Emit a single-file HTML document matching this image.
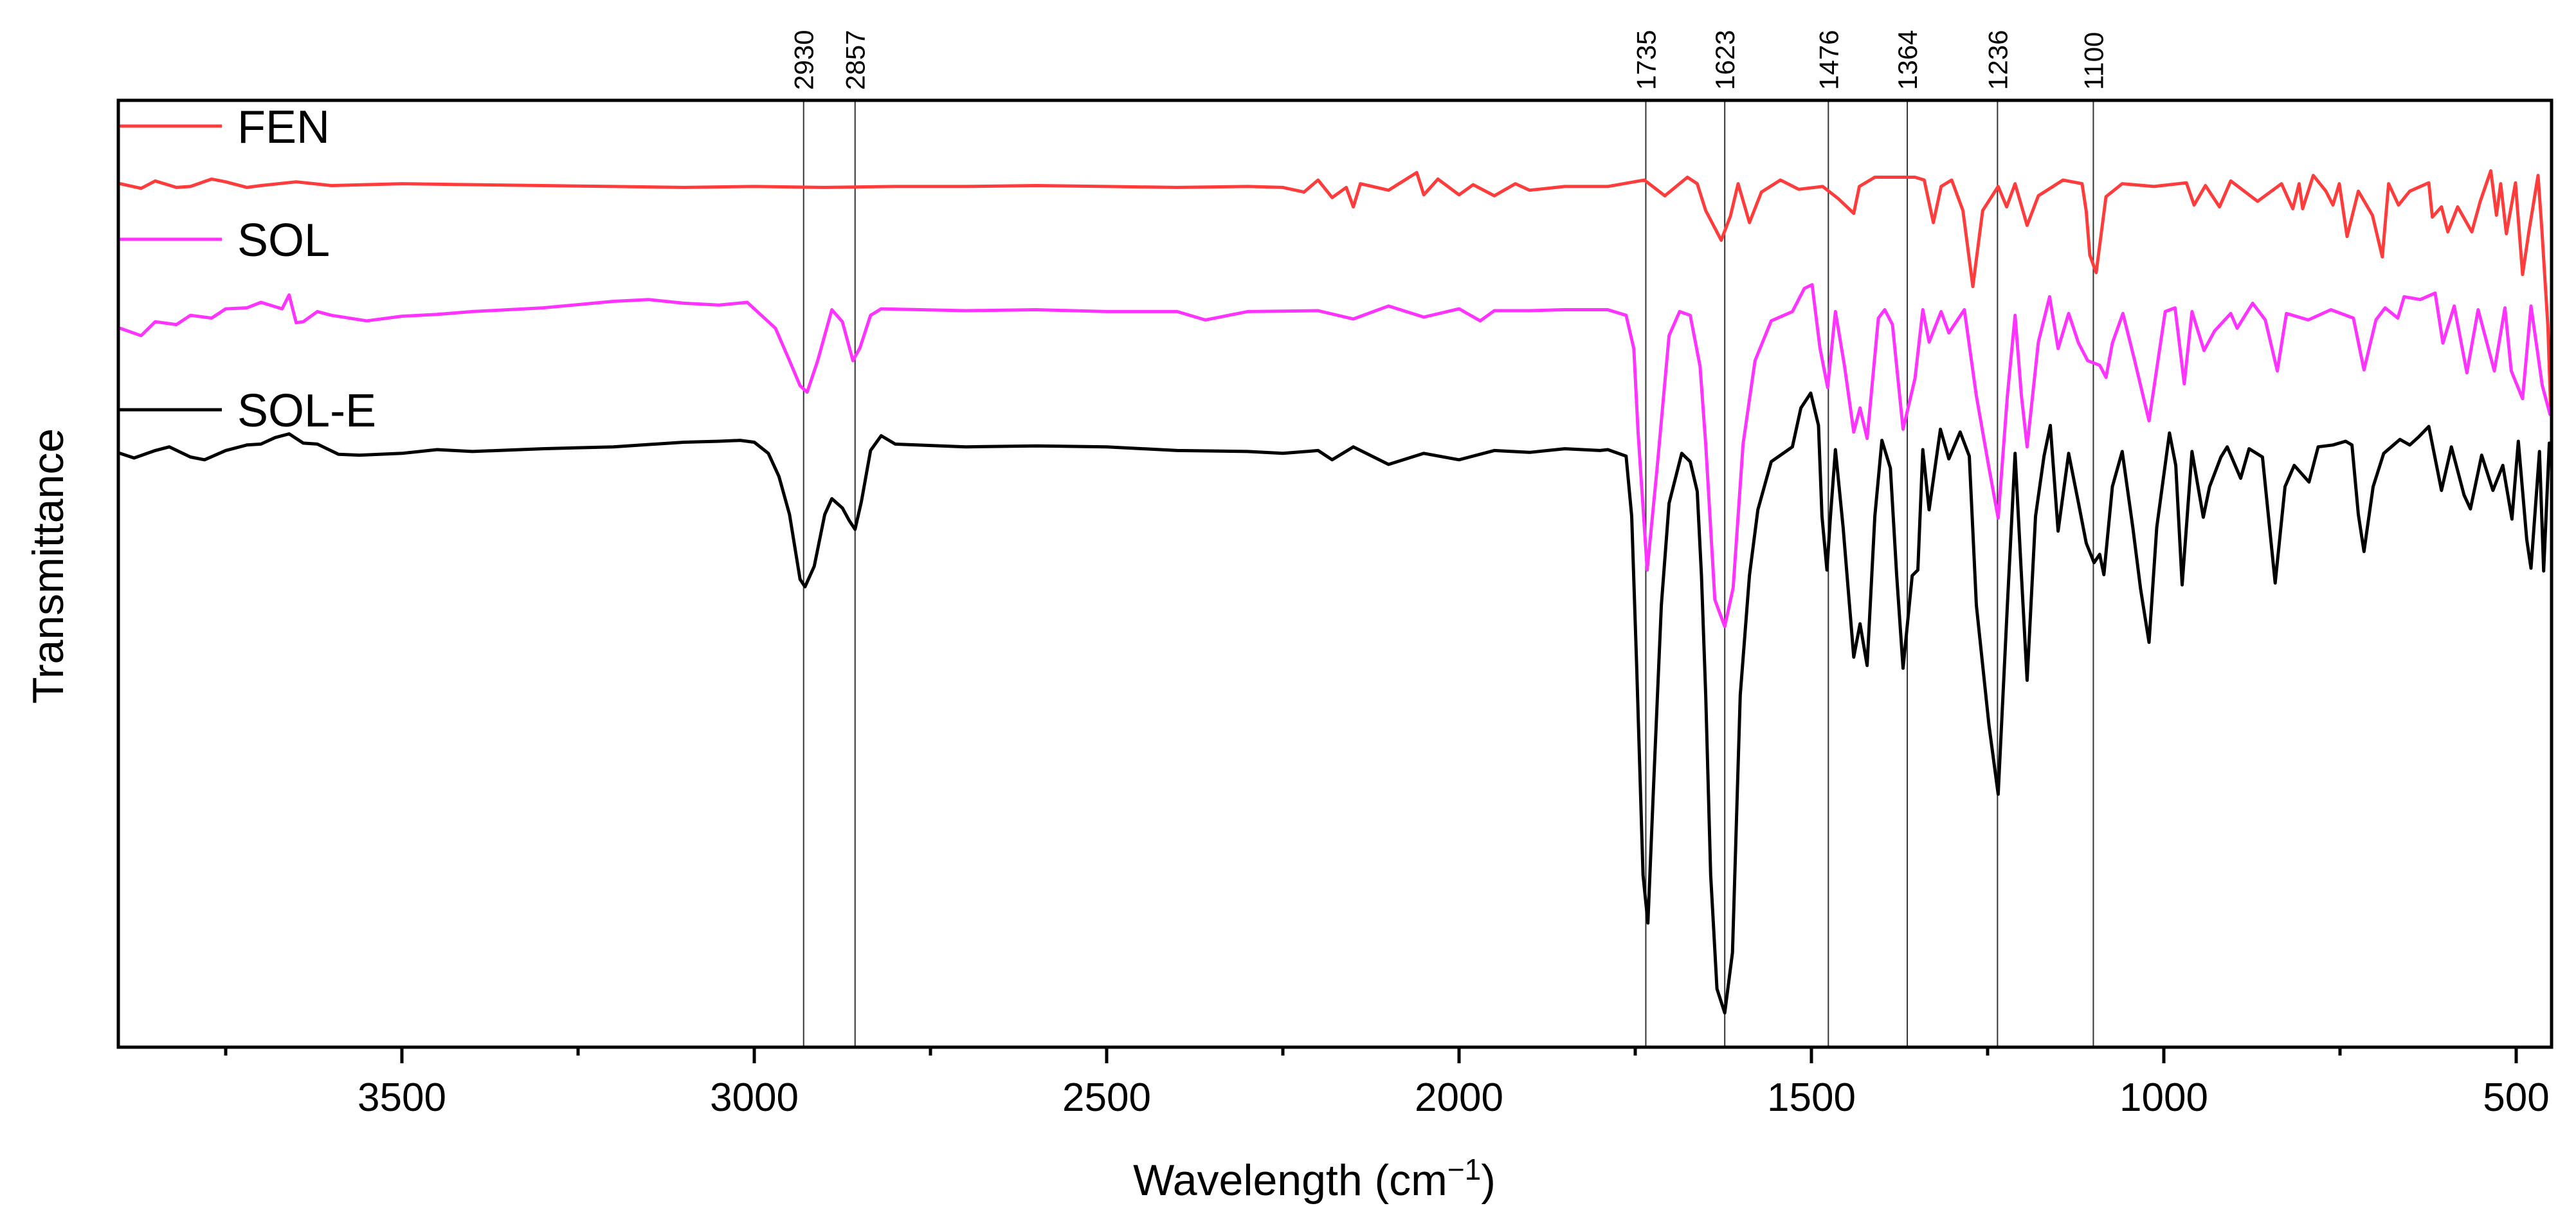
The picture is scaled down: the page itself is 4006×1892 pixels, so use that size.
<!DOCTYPE html>
<html><head><meta charset="utf-8"><title>FTIR spectra</title>
<style>
html,body{margin:0;padding:0;background:#fff;}
svg{display:block;font-family:"Liberation Sans",Arial,sans-serif;}
</style></head>
<body>
<svg id="chart" width="4006" height="1892" viewBox="0 0 4006 1892" xmlns="http://www.w3.org/2000/svg">
<rect x="0" y="0" width="4006" height="1892" fill="#fff"/>
<g id="marks"></g>
<g id="axes"></g>
</svg>
<script>
const seriesNames = ["FEN", "SOL", "SOL-E"];
const seriesColors = ["#ff3c3c", "#ff33ff", "#000000"];
const xTicks = [3500, 3000, 2500, 2000, 1500, 1000, 500];
const xMinorTicks = [3750, 3250, 2750, 2250, 1750, 1250, 750];
const peakLabels = [2930, 2857, 1735, 1623, 1476, 1364, 1236, 1100];

const fenWn = [3900,3870,3850,3820,3800,3770,3750,3720,3700,3650,3600,3500,3400,3300,3200,3100,3000,2900,2800,2700,2600,2500,2400,2300,2250,2220,2200,2180,2160,2150,2140,2100,2060,2050,2030,2000,1980,1950,1920,1900,1850,1800,1789,1737,1708,1676,1662,1650,1628,1615,1604,1588,1571,1544,1518,1484,1462,1440,1432,1410,1353,1340,1327,1316,1301,1285,1271,1257,1235,1223,1211,1194,1178,1143,1116,1110,1105,1096,1082,1059,1014,968,957,941,921,905,867,833,817,808,803,788,770,760,751,740,724,704,690,681,667,651,624,619,606,597,583,563,551,536,528,522,514,501,491,482,469,464,455,451];
const fenT = [91.0,90.5,91.3,90.6,90.7,91.5,91.2,90.6,90.8,91.2,90.8,91.0,90.9,90.8,90.7,90.6,90.7,90.6,90.7,90.7,90.8,90.7,90.6,90.7,90.6,90.1,91.4,89.5,90.6,88.5,91.0,90.3,92.2,89.8,91.5,89.8,90.9,89.7,91.0,90.3,90.7,90.7,90.7,91.4,89.7,91.7,91.0,88.1,84.9,87.5,91.0,86.8,90.1,91.4,90.4,90.7,89.4,87.8,90.7,91.7,91.7,91.4,86.8,90.7,91.4,88.1,79.9,88.1,90.7,88.5,91.0,86.5,89.7,91.4,91.0,88.0,83.3,81.4,89.6,91.0,90.7,91.1,88.7,90.8,88.5,91.3,89.1,91.0,88.3,91.0,88.3,91.9,90.2,88.7,91.0,85.3,90.2,87.6,83.1,91.0,88.7,90.2,91.1,87.4,88.5,85.8,88.5,85.8,89.1,92.4,87.6,91.0,85.6,91.1,81.2,85.8,91.9,86.5,75.6,66.4];

const solWn = [3900,3870,3850,3820,3800,3770,3750,3720,3700,3670,3660,3650,3640,3620,3600,3550,3500,3450,3400,3300,3200,3150,3100,3050,3010,2990,2970,2950,2935,2925,2910,2890,2875,2860,2850,2835,2820,2700,2600,2500,2400,2360,2300,2200,2150,2100,2050,2000,1970,1950,1900,1850,1800,1789,1763,1752,1746,1733,1719,1702,1687,1672,1658,1650,1637,1623,1611,1597,1580,1557,1527,1510,1499,1488,1477,1466,1453,1440,1431,1421,1405,1396,1385,1370,1353,1342,1333,1316,1305,1283,1266,1248,1235,1222,1211,1202,1194,1178,1162,1150,1135,1121,1108,1091,1082,1073,1058,1042,1021,998,984,971,960,943,928,905,896,874,856,839,826,795,763,731,716,699,686,668,659,636,615,604,588,570,554,531,516,507,491,479,463,452];
const solT = [75.4,74.6,76.1,75.8,76.8,76.5,77.5,77.6,78.2,77.5,79.0,76.0,76.1,77.2,76.8,76.2,76.7,76.9,77.2,77.6,78.3,78.5,78.1,77.9,78.2,76.8,75.4,71.9,69.2,68.5,71.9,77.4,76.1,71.9,73.3,76.8,77.5,77.3,77.4,77.2,77.2,76.3,77.2,77.3,76.4,77.8,76.6,77.5,76.2,77.3,77.3,77.4,77.4,77.4,76.8,73.2,64.2,49.3,60.3,74.6,77.2,76.8,71.3,62.9,46.1,43.2,47.4,62.9,71.9,76.2,77.2,79.7,80.1,73.3,69.0,77.2,71.3,64.2,66.8,63.5,76.5,77.4,75.8,64.5,70.0,77.4,73.9,77.2,74.9,77.4,68.1,60.3,54.9,68.1,76.8,68.1,62.6,73.9,78.8,73.2,77.0,73.8,71.9,71.4,70.1,73.8,77.0,72.1,65.4,77.2,77.6,69.4,77.2,73.0,75.1,77.0,75.4,78.1,76.3,70.8,77.0,76.3,77.4,76.5,70.9,76.3,77.6,76.5,78.8,78.5,79.2,73.8,77.8,70.6,77.4,70.8,77.6,70.8,67.8,77.8,69.2,66.1];

const soleWn = [3900,3880,3850,3830,3800,3780,3750,3720,3700,3680,3660,3640,3620,3590,3560,3500,3450,3400,3300,3200,3100,3050,3020,3000,2980,2965,2950,2935,2928,2915,2900,2890,2875,2865,2857,2848,2835,2820,2800,2700,2600,2500,2400,2300,2250,2200,2180,2150,2100,2050,2000,1950,1900,1850,1800,1789,1763,1755,1748,1739,1732,1724,1713,1702,1684,1672,1662,1656,1650,1643,1634,1623,1612,1601,1588,1576,1557,1527,1515,1501,1490,1485,1478,1473,1466,1455,1440,1431,1421,1410,1400,1388,1379,1370,1357,1349,1342,1333,1317,1305,1289,1276,1266,1248,1235,1222,1211,1202,1194,1182,1170,1161,1150,1135,1121,1110,1099,1091,1085,1073,1059,1044,1033,1021,1010,992,983,974,960,944,935,919,910,891,879,860,842,828,815,794,781,760,742,733,724,716,703,688,665,651,638,624,606,592,574,565,549,533,519,506,497,485,479,467,461,453];
const soleT = [61.9,61.4,62.2,62.6,61.5,61.2,62.2,62.8,62.9,63.6,64.0,63.0,62.9,61.8,61.7,61.9,62.3,62.1,62.4,62.6,63.1,63.2,63.3,63.1,61.9,59.4,55.3,48.3,47.5,49.7,55.3,57.0,56.0,54.6,53.7,56.7,62.2,63.8,62.9,62.6,62.7,62.6,62.2,62.1,61.9,62.2,61.2,62.6,60.7,61.9,61.2,62.2,62.0,62.4,62.2,62.3,61.6,55.1,39.0,16.4,11.2,26.0,45.5,56.5,61.9,61.0,57.8,48.7,35.8,16.4,4.1,1.5,8.0,35.8,48.7,55.8,61.0,62.6,66.8,68.4,64.9,55.1,49.3,55.1,62.3,53.9,39.9,43.5,39.0,55.1,63.3,60.3,48.7,38.7,48.7,49.3,62.3,55.8,64.5,61.3,64.2,61.6,45.5,32.5,25.1,45.5,61.9,48.7,37.4,55.1,61.6,64.9,53.5,61.9,56.5,52.2,50.1,51.0,48.8,58.3,62.1,53.9,47.3,41.5,53.9,64.1,60.6,47.7,62.1,55.0,58.3,61.5,62.6,59.2,62.4,61.5,47.9,58.3,60.6,58.8,62.6,62.8,63.2,62.8,55.3,51.3,58.3,61.9,63.4,62.8,63.7,64.8,57.9,62.6,57.4,55.9,61.7,57.9,60.6,54.8,63.2,52.6,49.5,62.1,49.2,63.0];

// axis geometry
const L = 184, R = 3968, T = 156, B = 1628;
const xAt500 = 3913, pxPerUnit = 1.096;
const yMin = -2.2, yMax = 100;
function xScale(w){ return xAt500 + (500 - w) * pxPerUnit; }
function yScale(v){ return B - (v - yMin) / (yMax - yMin) * (B - T); }

const NS = "http://www.w3.org/2000/svg";
const marks = document.getElementById("marks");
const axes = document.getElementById("axes");
function mk(tag, attrs, parent){
  const e = document.createElementNS(NS, tag);
  for (const k in attrs) e.setAttribute(k, attrs[k]);
  parent.appendChild(e);
  return e;
}

// peak marker lines + labels
peakLabels.forEach(function(p){
  const x = xScale(p);
  const ln = mk("line", {x1:x, x2:x, y1:T, y2:B, stroke:"#333", "stroke-width":2}, marks);
  
  
  const tx = mk("text", {x:0, y:0, "font-size":42, fill:"#000", transform:"translate(" + (x + 15) + ",140) rotate(-90)"}, axes);
  tx.textContent = String(p);
  
  
});

// series
const allWn = [fenWn, solWn, soleWn];
const allT = [fenT, solT, soleT];
const seriesKeys = ["fen", "sol", "sol-e"];
for (let s = 0; s < 3; s++){
  const wn = allWn[s], tv = allT[s];
  let d = "";
  for (let i = 0; i < wn.length; i++){
    d += (i ? "L" : "M") + xScale(wn[i]).toFixed(1) + "," + yScale(tv[i]).toFixed(1);
  }
  const path = mk("path", {d:d, fill:"none", stroke:seriesColors[s], "stroke-width":5, "stroke-linejoin":"round", "stroke-linecap":"round"}, marks);
  
  
}

// legend
const legendY = [196, 372, 637];
for (let s = 0; s < 3; s++){
  const g = mk("g", {}, axes);
  
  
  const ln = mk("line", {x1:L, x2:345, y1:legendY[s], y2:legendY[s], stroke:seriesColors[s], "stroke-width":5}, g);
  
  
  const tx = mk("text", {x:369, y:legendY[s] + 26, "font-size":72, fill:"#000"}, g);
  tx.textContent = seriesNames[s];
  
  
}

// frame
const frame = mk("rect", {x:L, y:T, width:R - L, height:B - T, fill:"none", stroke:"#000", "stroke-width":5}, axes);



// ticks
xTicks.forEach(function(t){
  const x = xScale(t);
  const tk = mk("line", {x1:x, x2:x, y1:B, y2:B + 25, stroke:"#000", "stroke-width":5}, axes);
  
  
  const lb = mk("text", {x:x, y:1727, "font-size":62, "text-anchor":"middle", fill:"#000"}, axes);
  lb.textContent = String(t);
  
  
});
xMinorTicks.forEach(function(t){
  const x = xScale(t);
  const tk = mk("line", {x1:x, x2:x, y1:B, y2:B + 13, stroke:"#000", "stroke-width":5}, axes);
  
  
});

// axis titles
const xt = mk("text", {x:2044, y:1858, "font-size":68, "text-anchor":"middle", fill:"#000"}, axes);
xt.innerHTML = 'Wavelength (cm<tspan dy="-24" font-size="46">−1</tspan><tspan dy="24">)</tspan>';


const yt = mk("text", {x:0, y:0, "font-size":68, "text-anchor":"middle", fill:"#000", transform:"translate(98,880) rotate(-90)"}, axes);
yt.textContent = "Transmittance";


</script>
</body></html>
